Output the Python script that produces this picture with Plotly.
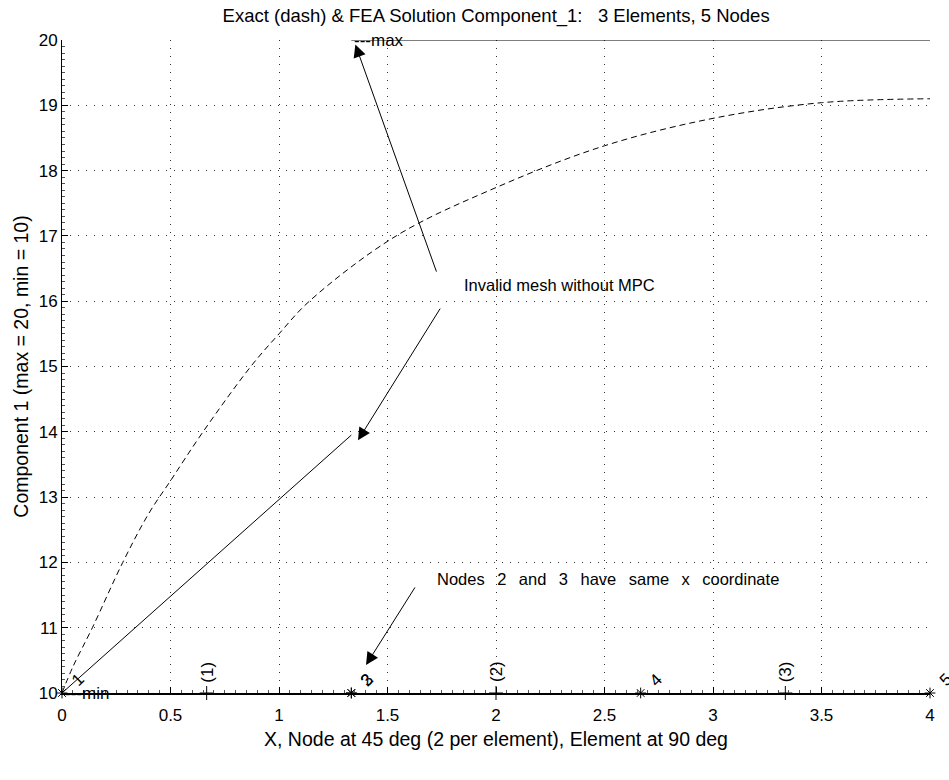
import plotly.graph_objects as go

NB = "\u00a0"

# Exact solution (dashed)
exact_x = [0, 0.05, 0.14, 0.28, 0.4, 0.5, 0.65, 0.87, 1.0, 1.14, 1.54, 2.0, 2.5, 3.0, 3.5, 4.0]
exact_y = [10, 10.4, 11, 12, 12.75, 13.25, 14, 15, 15.5, 16.0, 17.0, 17.74, 18.38, 18.8, 19.04, 19.1]

# FEA solution segments (solid)
fea_x = [0, 4/3, None, 4/3, 8/3, 4.0]
fea_y = [10, 13.95, None, 20, 20, 20]

# Mesh nodes and element centres along the bottom
node_x = [0, 4/3, 4/3, 8/3, 4.0]
node_y = [10, 10, 10, 10, 10]
node_labels = ["1", "2", "3", "4", "5"]
elem_x = [2/3, 2.0, 10/3]
elem_y = [10, 10, 10]
elem_labels = ["(1)", "(2)", "(3)"]

title = "Exact (dash) & FEA Solution Component_1:" + NB + " " + NB + "3 Elements, 5 Nodes"
xlabel = "X, Node at 45 deg (2 per element), Element at 90 deg"
ylabel = "Component 1 (max = 20, min = 10)"

FONT = "Liberation Sans, Arial, Helvetica, sans-serif"
FS = 17
FT = 18.5

fig = go.Figure()
fig.add_trace(go.Scatter(x=exact_x, y=exact_y, mode="lines",
                         line=dict(color="black", width=1, dash="6px,4px", shape="spline"),
                         cliponaxis=False, showlegend=False))
fig.add_trace(go.Scatter(x=fea_x, y=fea_y, mode="lines", line=dict(color="black", width=1),
                         cliponaxis=False, showlegend=False, connectgaps=False))
fig.add_trace(go.Scatter(x=node_x, y=node_y, mode="markers",
                         marker=dict(symbol="asterisk-open", size=9, color="black", line=dict(color="black", width=1)),
                         cliponaxis=False, showlegend=False))
fig.add_trace(go.Scatter(x=elem_x, y=elem_y, mode="markers",
                         marker=dict(symbol="cross-thin-open", size=10, color="black", line=dict(color="black", width=1)),
                         cliponaxis=False, showlegend=False))

ann = []
for xv, yv, lab in zip(node_x, node_y, node_labels):
    ann.append(dict(x=xv, y=yv, text=lab, showarrow=False, textangle=-45, xref="x", yref="y",
                    xshift=15, yshift=13, font=dict(size=FS, color="black", family=FONT)))
for xv, yv, lab in zip(elem_x, elem_y, elem_labels):
    ann.append(dict(x=xv, y=yv, text=lab, showarrow=False, textangle=-90, xref="x", yref="y",
                    yshift=21, font=dict(size=FS, color="black", family=FONT)))
# min / max labels
ann.append(dict(x=0, y=10, text="---min", showarrow=False, xanchor="left", yanchor="middle",
                xshift=1, font=dict(size=FS, color="black", family=FONT)))
ann.append(dict(x=4/3, y=20, text="---max", showarrow=False, xanchor="left", yanchor="middle",
                xshift=1, font=dict(size=FS, color="black", family=FONT)))
# texts
ann.append(dict(x=1.843, y=16.25, text="Invalid mesh without MPC", showarrow=False, xanchor="left",
                yanchor="middle", font=dict(size=16.5, color="black", family=FONT)))
GAP = NB + " \u2009"
ann.append(dict(x=1.719, y=11.74,
                text=("Nodes" + GAP + "2" + GAP + "and" + GAP + "3" + GAP + "have" + GAP + "same" + GAP + "x" + GAP + "coordinate"),
                showarrow=False, xanchor="left", yanchor="middle", font=dict(size=16.5, color="black", family=FONT)))
# arrows (tail -> head)
arrows = [((1.728, 16.43), (1.352, 19.93)),
          ((1.747, 15.91), (1.364, 13.87)),
          ((1.631, 11.64), (1.401, 10.43))]
for (tx, ty), (hx, hy) in arrows:
    ann.append(dict(x=hx, y=hy, ax=tx, ay=ty, xref="x", yref="y", axref="x", ayref="y", text="",
                    showarrow=True, arrowhead=2, arrowsize=2.5, arrowwidth=1, arrowcolor="black"))

fig.update_layout(
    width=949, height=780,
    margin=dict(l=62, r=19, t=40, b=87),
    paper_bgcolor="white", plot_bgcolor="white",
    font=dict(family=FONT, size=FS, color="black"),
    title=dict(text=title, x=0.5228, xanchor="center", y=0.988, yanchor="top", font=dict(size=FT)),
    annotations=ann,
    showlegend=False,
)
fig.update_xaxes(range=[0, 4], dtick=0.5, tick0=0, showline=True, linecolor="black", linewidth=2,
                 ticks="inside", ticklen=6, tickcolor="black", zeroline=False,
                 showgrid=True, gridcolor="#333", griddash="1px,7px", gridwidth=1,
                 minor=dict(dtick=0.05, ticks="inside", ticklen=3, tickcolor="#555", showgrid=False),
                 title=dict(text=xlabel, standoff=8, font=dict(size=19.5)),
                 ticklabelstandoff=6,
                 tickfont=dict(size=FS), fixedrange=True)
fig.update_yaxes(range=[10, 20], dtick=1, tick0=10, showline=True, linecolor="black", linewidth=1,
                 ticks="inside", ticklen=6, tickcolor="black", zeroline=False,
                 showgrid=True, gridcolor="#333", griddash="1px,7px", gridwidth=1,
                 minor=dict(dtick=0.1, ticks="inside", ticklen=3, tickcolor="#555", showgrid=False),
                 title=dict(text=ylabel, standoff=4, font=dict(size=19.5)),
                 tickfont=dict(size=FS), fixedrange=True)

fig.write_html("out.html")
